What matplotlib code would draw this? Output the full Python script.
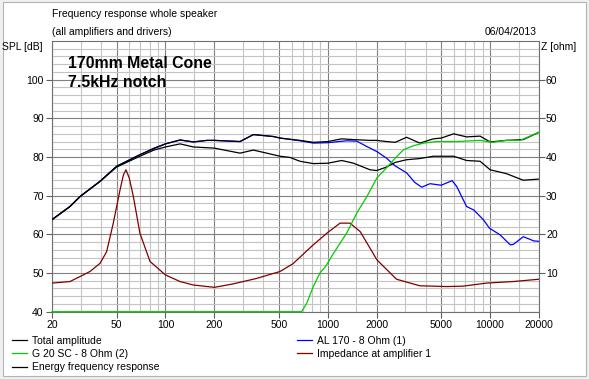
import matplotlib
matplotlib.use('Agg')
import matplotlib.pyplot as plt
from matplotlib.patches import Rectangle
from matplotlib.ticker import FixedLocator, FixedFormatter, NullFormatter

plt.rcParams['font.family'] = ['Liberation Sans', 'DejaVu Sans']
plt.rcParams['font.size'] = 7.5

# ---------------- data ----------------
# Total amplitude [dB]
f_total = [20, 25.8, 29.8, 39.5, 50, 69.6, 85, 100, 123, 148.6, 180, 200, 288, 348, 462, 508,
           674, 814, 1000, 1218, 1440, 1820, 2000, 2300, 2600, 3060, 3690, 4470, 5000, 5960,
           7160, 8670, 10000, 12600, 16000, 20000]
spl_total = [63.8, 67.2, 69.8, 73.7, 77.6, 80.6, 82.3, 83.4, 84.4, 83.9, 84.3, 84.3, 84.0, 85.8, 85.3, 84.9,
             84.3, 83.8, 84.0, 84.7, 84.5, 84.3, 84.3, 84.0, 83.8, 85.1, 83.6, 84.7, 84.9, 86.0,
             85.2, 85.4, 83.9, 84.3, 84.5, 86.4]

# Energy frequency response [dB]
f_energy = [20, 25.8, 29.8, 39.5, 50, 69.6, 85, 100, 123, 148.6, 180, 200, 288, 348, 462, 508, 584,
            674, 814, 1000, 1218, 1440, 1820, 2000, 2300, 2600, 3060, 3690, 4470, 5000, 5960,
            7160, 8670, 10000, 12600, 16000, 20000]
spl_energy = [63.8, 67.2, 69.8, 73.7, 77.4, 80.2, 81.8, 82.6, 83.4, 82.6, 82.4, 82.3, 81.0, 81.8, 80.6, 80.2, 79.9,
              78.9, 78.3, 78.4, 79.1, 78.4, 76.7, 76.5, 77.4, 78.6, 79.3, 79.6, 80.2, 80.2, 80.2,
              79.1, 78.9, 76.7, 75.7, 74.0, 74.3]

# AL 170 - 8 Ohm (1) [dB]
f_al = [20, 25.8, 29.8, 39.5, 50, 69.6, 100, 123, 148.6, 180, 200, 288, 348, 462, 508, 674, 814,
        1000, 1306, 1508, 1742, 2008, 2300, 2600, 3060, 3440, 3790, 4260, 5000, 5830, 6220,
        7160, 7930, 9080, 9900, 11500, 13300, 13900, 16000, 18600, 20000]
spl_al = [63.8, 67.2, 69.8, 73.7, 77.6, 80.6, 83.4, 84.4, 83.9, 84.3, 84.3, 84.0, 85.8, 85.3, 84.9, 84.2, 83.6,
          83.7, 84.2, 84.1, 82.7, 81.4, 79.7, 77.7, 75.9, 73.4, 72.2, 73.1, 72.7, 73.9, 72.4,
          67.2, 66.3, 63.8, 61.6, 59.9, 57.3, 57.4, 59.4, 58.3, 58.2]

# G 20 SC - 8 Ohm (2) [dB]  (drawn clamped at the 40 dB floor)
f_g20 = [20, 690, 742, 814, 897, 970, 1084, 1190, 1306, 1508, 1742, 2008, 2300, 2600, 2930,
         3360, 3890, 4700, 6220, 8670, 10300, 12600, 15300, 20000]
spl_g20 = [40.0, 40.0, 42.2, 46.5, 50.1, 51.7, 55.1, 57.7, 60.3, 65.5, 69.8, 74.6, 77.2, 79.7, 81.9,
           82.9, 83.6, 84.0, 84.0, 84.3, 83.8, 84.3, 84.3, 86.4]

# Impedance at amplifier 1 [ohm]
f_imp = [20, 25.8, 29.8, 34.3, 39.5, 43.4, 47.7, 52.5, 55.1, 57.1, 59.8, 63.4, 69.6, 80.3, 100,
         123, 148.6, 200, 262, 364, 508, 610, 814, 1000, 1190, 1370, 1584, 2008, 2650, 3690,
         5400, 6800, 9500, 13900, 20000]
z_imp = [7.4, 7.8, 9.1, 10.4, 12.5, 15.5, 22.9, 31.5, 35.4, 36.7, 34.6, 29.8, 20.3, 13.0, 9.5,
         7.8, 6.9, 6.3, 7.2, 8.6, 10.4, 12.4, 17.3, 20.5, 22.9, 22.9, 20.7, 13.4, 8.4, 6.7,
         6.5, 6.6, 7.4, 7.8, 8.4]

x_major = [20, 50, 100, 200, 500, 1000, 2000, 5000, 10000, 20000]
x_labels = ['20', '50', '100', '200', '500', '1000', '2000', '5000', '10000', '20000']
x_minor = [30, 40, 60, 70, 80, 90, 150, 300, 400, 600, 700, 800, 900, 1500, 3000, 4000,
           6000, 7000, 8000, 9000, 15000]
spl_ticks = [40, 50, 60, 70, 80, 90, 100]
spl_minor = [v for v in range(42, 110, 2) if v % 10 != 0]
z_ticks = [10, 20, 30, 40, 50, 60]

labels = ['Total amplitude', 'G 20 SC - 8 Ohm (2)', 'Energy frequency response',
          'AL 170 - 8 Ohm (1)', 'Impedance at amplifier 1']

# ---------------- figure ----------------
W, H = 589, 379
def fx(px):
    return px / W
def fy(py):
    return 1 - py / H

fig = plt.figure(figsize=(W / 100, H / 100), dpi=100)
fig.patch.set_facecolor('#f0f0f0')
fig.add_artist(Rectangle((fx(3), fy(376)), (586 - 3) / W, (376 - 2) / H,
                         transform=fig.transFigure, facecolor='white',
                         edgecolor='#b4b4b4', lw=0.8, zorder=-10))

ax = fig.add_axes([fx(52), fy(311.7), 487 / W, 270.7 / H])
ax.set_xscale('log')
ax.set_xlim(20, 20000)
ax.set_ylim(40, 110)

ax.xaxis.set_major_locator(FixedLocator(x_major))
ax.xaxis.set_major_formatter(FixedFormatter(x_labels))
ax.xaxis.set_minor_locator(FixedLocator(x_minor))
ax.xaxis.set_minor_formatter(NullFormatter())
ax.yaxis.set_major_locator(FixedLocator(spl_ticks))
ax.yaxis.set_minor_locator(FixedLocator(spl_minor))
ax.yaxis.set_minor_formatter(NullFormatter())

ax.set_axisbelow(True)
ax.grid(which='major', color='#808080', lw=0.8)
ax.grid(which='minor', color='#c4c4c4', lw=0.8)
ax.tick_params(which='major', direction='out', length=4, width=0.8, color='#606060',
               labelsize=7.5, pad=2)
ax.tick_params(which='minor', length=0)
for s in ax.spines.values():
    s.set_color('#707070')
    s.set_linewidth(0.8)

lw = 0.9
h_al, = ax.plot(f_al, spl_al, color='#0000ff', lw=lw, zorder=2)
h_total, = ax.plot(f_total, spl_total, color='black', lw=lw, zorder=3)
h_energy, = ax.plot(f_energy, spl_energy, color='black', lw=lw, zorder=3)

ax2 = ax.twinx()
ax2.set_ylim(0, 70)
ax2.yaxis.set_major_locator(FixedLocator(z_ticks))
ax2.tick_params(which='major', direction='out', length=4, width=0.8, color='#606060',
                labelsize=7.5, pad=1)
for s in ax2.spines.values():
    s.set_visible(False)
h_imp, = ax2.plot(f_imp, z_imp, color='#800000', lw=lw, zorder=3)
# tweeter drawn last so its floor segment lies on top of the bottom spine
h_g20, = ax2.plot(f_g20, [v - 40 for v in spl_g20], color='#00cc00', lw=lw, zorder=4,
                  clip_on=False)

# ---------------- texts ----------------
fig.text(fx(52), fy(14), 'Frequency response whole speaker', ha='left', va='center')
fig.text(fx(52), fy(32), '(all amplifiers and drivers)', ha='left', va='center')
fig.text(fx(537), fy(32), '06/04/2013', ha='right', va='center')
fig.text(fx(2), fy(47), 'SPL [dB]', ha='left', va='center')
fig.text(fx(541), fy(47), 'Z [ohm]', ha='left', va='center')
fig.text(fx(68.5), fy(68.5), '170mm Metal Cone', fontsize=11.4, fontweight='bold',
         ha='left', va='baseline')
fig.text(fx(68.5), fy(86.7), '7.5kHz notch', fontsize=11.4, fontweight='bold',
         ha='left', va='baseline')

# ---------------- legend ----------------
leg_kw = dict(loc='upper left', frameon=False, fontsize=7.5, handlelength=1.4,
              handletextpad=0.5, labelspacing=0.32, borderpad=0, borderaxespad=0)
fig.legend(handles=[h_total, h_g20, h_energy], labels=labels[:3],
           bbox_to_anchor=(fx(12), fy(335.5)), **leg_kw)
fig.legend(handles=[h_al, h_imp], labels=labels[3:],
           bbox_to_anchor=(fx(297), fy(335.5)), **leg_kw)

fig.savefig('out.png', dpi=100, facecolor=fig.get_facecolor())
